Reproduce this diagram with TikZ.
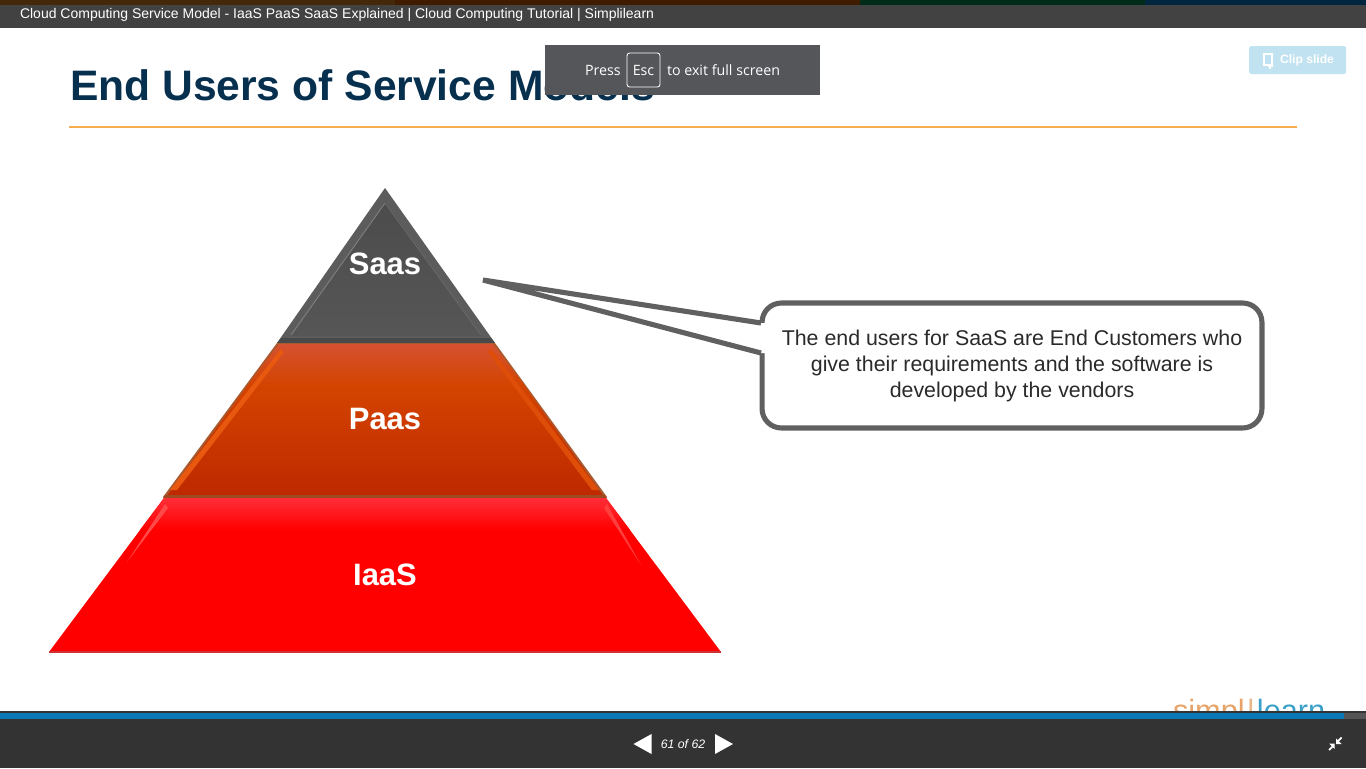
\documentclass[tikz,border=0pt]{standalone}
\usepackage{fontspec}
\setmainfont{Liberation Sans}
\newfontfamily\barfont{Open Sans}
\usetikzlibrary{calc}
\definecolor{titleblue}{HTML}{07304F}
\definecolor{ruleorange}{HTML}{F6AE50}
\definecolor{barcolor}{HTML}{424242}
\definecolor{footcolor}{HTML}{333333}
\definecolor{toastgray}{HTML}{54565A}
\definecolor{clipblue}{HTML}{C0E2F1}
\definecolor{calloutgray}{HTML}{606060}
\definecolor{notetext}{HTML}{2A2A2A}
\definecolor{progressblue}{HTML}{0A78B4}
\definecolor{stripea}{HTML}{44280A}
\definecolor{stripeb}{HTML}{3F1C00}
\definecolor{stripec}{HTML}{002B18}
\definecolor{striped}{HTML}{00263F}
\definecolor{saasedge}{HTML}{5C5C5C}
\definecolor{saastop}{HTML}{4C4C4C}
\definecolor{saasbottom}{HTML}{565656}
\definecolor{saaslight}{HTML}{7C7C7C}
\definecolor{saasmid}{HTML}{666666}
\definecolor{saasbase}{HTML}{494949}
\definecolor{paasedge}{HTML}{A85A30}
\definecolor{paastop}{HTML}{D55130}
\definecolor{paasupper}{HTML}{D44400}
\definecolor{paasmid}{HTML}{CF3000}
\definecolor{paasbottom}{HTML}{BE2800}
\definecolor{paaslight}{HTML}{E8590F}
\definecolor{paasright}{HTML}{DF4E08}
\definecolor{paasbase}{HTML}{9E4A20}
\definecolor{iaastop}{HTML}{FF2D37}
\definecolor{iaasleft}{HTML}{FF4A4A}
\definecolor{iaasright}{HTML}{FF3E3E}
\definecolor{iaasbase}{HTML}{D03030}
\definecolor{logoorange}{HTML}{E8A468}
\definecolor{logobar}{HTML}{E8B888}
\definecolor{logoblue}{HTML}{3AA0C8}
\definecolor{restbar}{HTML}{555555}
\tikzset{
  plain/.style={inner sep=0pt, outer sep=0pt},
  layerlabel/.style={plain, text=white, font=\bfseries\fontsize{17.6}{20}\selectfont},
  bartext/.style={plain, text=white, anchor=west},
  toasttext/.style={bartext, font=\barfont\fontsize{8.1}{10}\selectfont},
  callout/.style={
    rectangle,
    draw=calloutgray, line width=2.9pt,
    fill=white,
    rounded corners=11pt,
    minimum width=10cm,
    minimum height=2.5cm},
  notelabel/.style={plain, align=center, text=notetext, font=\fontsize{12.15}{14.9}\selectfont},
}

\begin{document}
\begin{tikzpicture}[x=0.02cm,y=-0.02cm]
\useasboundingbox (0,0) rectangle (1366,768);
\fill[white] (0,0) rectangle (1366,768);

% top of the window
\fill[barcolor] (0,5) rectangle (1366,28);
\fill[stripea] (0,0) rectangle (395,5);
\fill[stripeb] (395,0) rectangle (860,5);
\fill[stripec] (860,0) rectangle (1145,5);
\fill[striped] (1145,0) rectangle (1366,5);
\node[bartext, font=\fontsize{7.97}{10}\selectfont] at (20,15) (videotitle) {Cloud Computing Service Model - IaaS PaaS SaaS Explained | Cloud Computing Tutorial | Simplilearn};

% slide head
\node[plain, anchor=west, text=titleblue, font=\bfseries\fontsize{24.25}{28}\selectfont] at (70,85) (slidetitle) {End Users of Service Models};
\draw[ruleorange, line width=1pt] (69,127) -- (1297,127);

% exit message
\fill[toastgray] (545,45) rectangle (820,95);
\node[toasttext] at (585,70) (press) {Press};
\node[plain, draw=white, line width=0.5pt, rounded corners=1.5pt, minimum width=0.66cm, minimum height=0.68cm, text=white, font=\barfont\fontsize{8.1}{10}\selectfont] at (643.5,70) (esc) {Esc};
\node[toasttext] at (667,70) (exitmsg) {to exit full screen};

% clip button
\fill[clipblue, rounded corners=1pt] (1249,46) rectangle (1346,74);
\node[bartext, font=\bfseries\fontsize{6.9}{9}\selectfont] at (1280,60) (clip) {Clip slide};
\draw[white, line width=0.8pt] (1264,54) rectangle (1272,65);
\draw[white, line width=0.8pt] (1270,64) -- (1270,69) (1267.5,66.5) -- (1272.5,66.5);

% pyramid
\fill[saasedge] (385,188) -- (495,343) -- (277,343) -- cycle;
\shade[top color=saastop, bottom color=saasbottom] (385,202) -- (482,336) -- (290,336) -- cycle;
\draw[saaslight, line width=0.6pt] (385,203) -- (291,335);
\draw[saasmid, line width=0.6pt] (385,203) -- (481,335);
\fill[saasbase] (281,338) -- (491,338) -- (495,343) -- (277,343) -- cycle;

\fill[paasedge] (277,343) -- (495,343) -- (607,497) -- (163,497) -- cycle;
\shade[top color=paastop, bottom color=paasupper] (279,344) -- (493,344) -- (525,386) -- (247,386) -- cycle;
\shade[top color=paasupper, middle color=paasmid, bottom color=paasbottom] (248,385) -- (524,385) -- (604,497) -- (166,497) -- cycle;
\fill[paaslight] (281,349) -- (170,490) -- (177,490) -- (284,352) -- cycle;
\fill[paasright] (491,349) -- (599,490) -- (592,490) -- (488,352) -- cycle;
\fill[paasbase] (165,495) -- (605,495) -- (607,498) -- (163,498) -- cycle;

\fill[red] (164,498) -- (606,498) -- (721,652) -- (49,652) -- cycle;
\shade[top color=iaastop, bottom color=red] (164,498) -- (606,498) -- (630,530) -- (140,530) -- cycle;
\fill[iaasleft] (165,504) -- (127,562) -- (168,508) -- cycle;
\fill[iaasright] (607,504) -- (641,565) -- (604,508) -- cycle;
\draw[iaasbase, line width=0.6pt] (49,652) -- (721,652);

\node[layerlabel] at (385,264) (saas) {Saas};
\node[layerlabel] at (385,419) (paas) {Paas};
\node[layerlabel] at (385,575) (iaas) {IaaS};

% callout
\node[callout] at (1012,365.5) (notebox) {};
\node[notelabel] at (1012,366) (note) {The end users for SaaS are End Customers who\\give their requirements and the software is\\developed by the vendors};
\coordinate (tailtip) at (483,280);
\coordinate (tailtop) at (761,323);
\coordinate (tailbottom) at (761,353);
\fill[white] (tailtip) -- (tailtop) -- ($(tailtop)+(4,0)$) -- ($(tailbottom)+(4,0)$) -- (tailbottom) -- cycle;
\draw[calloutgray, line width=2.9pt, line join=miter] (tailtop) -- (tailtip) -- (tailbottom);

% logo, cut by the player bar
\node[plain, anchor=base west, font=\fontsize{17.5}{20}\selectfont] at (1173,721) (logo) {\textcolor{logoorange}{simpl}\kern1.2pt\textcolor{logobar}{|}\kern1.2pt\textcolor{logoblue}{learn}};

% player bar
\fill[footcolor] (0,711) rectangle (1366,768);
\fill[restbar] (1344,713) rectangle (1366,719);
\fill[progressblue] (0,713) rectangle (1344,719);
\node[plain, text=white, font=\itshape\fontsize{7}{9}\selectfont] at (683,744.5) (pagecount) {61 of 62};
\node[plain] at (642.5,744) (prevbtn) {};
\node[plain] at (724,744) (nextbtn) {};
\fill[white] ($(prevbtn)+(-9,0)$) -- ($(prevbtn)+(9,-10)$) -- ($(prevbtn)+(9,10)$) -- cycle;
\fill[white] ($(nextbtn)+(9,0)$) -- ($(nextbtn)+(-9,-10)$) -- ($(nextbtn)+(-9,10)$) -- cycle;
\draw[white, line width=1pt] (1329,750) -- (1333,746) (1341.5,737.5) -- (1338,741);
\fill[white] (1334.5,743.5) -- (1334.5,749) -- (1329,743.5) -- cycle;
\fill[white] (1336,744) -- (1336,738.5) -- (1341.5,744) -- cycle;
\end{tikzpicture}
\end{document}
